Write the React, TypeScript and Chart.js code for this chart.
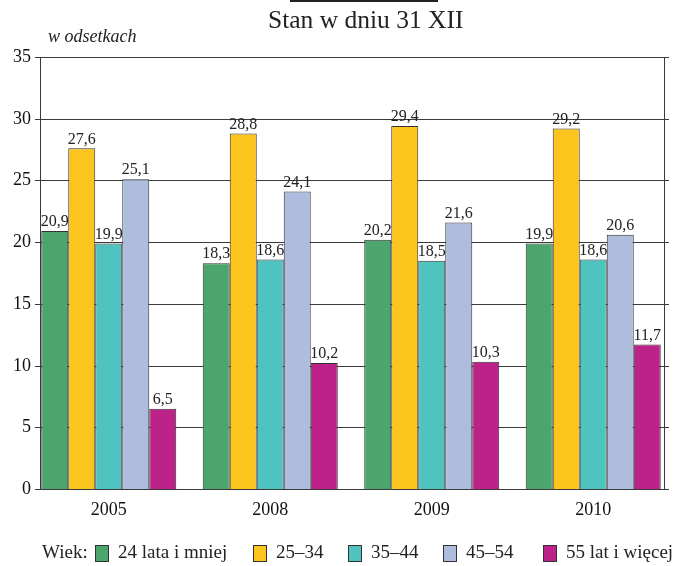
import React, { useEffect, useRef } from "react";
import { Chart, registerables } from "chart.js";
Chart.register(...registerables);

const categories = ["2005", "2008", "2009", "2010"];
const seriesNames = ["24 lata i mniej", "25–34", "35–44", "45–54", "55 lat i więcej"];
const s24 = [20.9, 18.3, 20.2, 19.9];
const s25 = [27.6, 28.8, 29.4, 29.2];
const s35 = [19.9, 18.6, 18.5, 18.6];
const s45 = [25.1, 24.1, 21.6, 20.6];
const s55 = [6.5, 10.2, 10.3, 11.7];
const colors = ["#4ba56c", "#fcc51d", "#4fc3bf", "#aebcde", "#bd218a"];
const yTicks = [0, 5, 10, 15, 20, 25, 30, 35];

const FONT = "'Liberation Serif', 'Times New Roman', serif";
const FRAME_L = 40;
const FRAME_R = 664;
const TICK = 5;
const LINE = "#3a3a3a";
const legendBoxX = [95, 253, 348, 443, 543];

const framePlugin = {
  id: "frame",
  beforeDatasetsDraw(chart: any) {
    const ctx = chart.ctx;
    const ys = chart.scales.y;
    ctx.save();
    ctx.strokeStyle = LINE;
    ctx.lineWidth = 1;
    ctx.font = `18px ${FONT}`;
    ctx.fillStyle = "#111";
    ctx.textAlign = "right";
    ctx.textBaseline = "middle";
    yTicks.forEach((v) => {
      const y = Math.round(ys.getPixelForValue(v)) + 0.5;
      ctx.beginPath();
      ctx.moveTo(FRAME_L - TICK, y);
      ctx.lineTo(FRAME_R + TICK, y);
      ctx.stroke();
      ctx.fillText(String(v), FRAME_L - TICK - 4, y);
    });
    const top = Math.round(ys.getPixelForValue(35));
    const bot = Math.round(ys.getPixelForValue(0));
    [FRAME_L, FRAME_R].forEach((x) => {
      ctx.beginPath();
      ctx.moveTo(x + 0.5, top);
      ctx.lineTo(x + 0.5, bot + 1);
      ctx.stroke();
    });
    ctx.restore();
  },
  afterDatasetsDraw(chart: any) {
    const ctx = chart.ctx;
    ctx.save();
    ctx.font = `16px ${FONT}`;
    ctx.fillStyle = "#222";
    ctx.textAlign = "center";
    ctx.textBaseline = "bottom";
    chart.data.datasets.forEach((ds: any, i: number) => {
      const meta = chart.getDatasetMeta(i);
      meta.data.forEach((bar: any, j: number) => {
        const v = ds.data[j];
        ctx.fillText(String(v).replace(".", ","), bar.x, bar.y - 1);
      });
    });
    ctx.restore();
  },
};

export default function App() {
  const ref = useRef<HTMLCanvasElement>(null);
  useEffect(() => {
    document.body.style.margin = "0";
    const all = [s24, s25, s35, s45, s55];
    const chart = new Chart(ref.current!, {
      type: "bar",
      data: {
        labels: categories,
        datasets: all.map((d, i) => ({
          label: seriesNames[i],
          data: d,
          backgroundColor: colors[i],
          borderColor: "#333",
          borderWidth: 1,
          categoryPercentage: 0.836,
          barPercentage: 1,
        })),
      },
      options: {
        animation: false,
        responsive: false,
        layout: { padding: { left: 0, right: 3, top: 57, bottom: 0 } },
        plugins: { legend: { display: false }, tooltip: { enabled: false }, title: { display: false } },
        scales: {
          x: {
            grid: { display: false, drawTicks: false },
            border: { display: false },
            ticks: { color: "#111", font: { family: FONT, size: 18 }, padding: 10 },
            afterFit: (s: any) => { s.height = 77; },
          },
          y: {
            min: 0,
            max: 35,
            afterBuildTicks: (s: any) => { s.ticks = yTicks.map((v) => ({ value: v })); },
            grid: { display: false, drawTicks: false },
            border: { display: false },
            ticks: { display: false },
            afterFit: (s: any) => { s.width = 28; },
          },
        },
      },
      plugins: [framePlugin],
    });
    return () => chart.destroy();
  }, []);

  return (
    <div style={{ position: "absolute", left: 0, top: 0, width: 677, height: 566, background: "#fff", fontFamily: FONT, overflow: "hidden" }}>
      <canvas ref={ref} width={677} height={566} style={{ position: "absolute", left: 0, top: 0 }} />
      <div style={{ position: "absolute", left: 290, top: 0, width: 148, height: 0, borderTop: "2px solid #222" }} />
      <div style={{ position: "absolute", left: 268, top: 5, fontSize: 25.5, fontWeight: "normal", color: "#222", whiteSpace: "nowrap" }}>
        Stan w dniu 31 XII
      </div>
      <div style={{ position: "absolute", left: 48, top: 26, fontSize: 18, fontStyle: "italic", color: "#222" }}>w odsetkach</div>
      <div style={{ position: "absolute", left: 42, top: 541, fontSize: 19, color: "#222", whiteSpace: "nowrap" }}>Wiek:</div>
      {seriesNames.map((n, i) => (
        <React.Fragment key={i}>
          <span style={{ position: "absolute", left: legendBoxX[i], top: 545, width: 12, height: 15, background: colors[i], border: "1px solid #333" }} />
          <span style={{ position: "absolute", left: legendBoxX[i] + 23, top: 541, fontSize: 19, color: "#222", whiteSpace: "nowrap" }}>{n}</span>
        </React.Fragment>
      ))}
    </div>
  );
}
